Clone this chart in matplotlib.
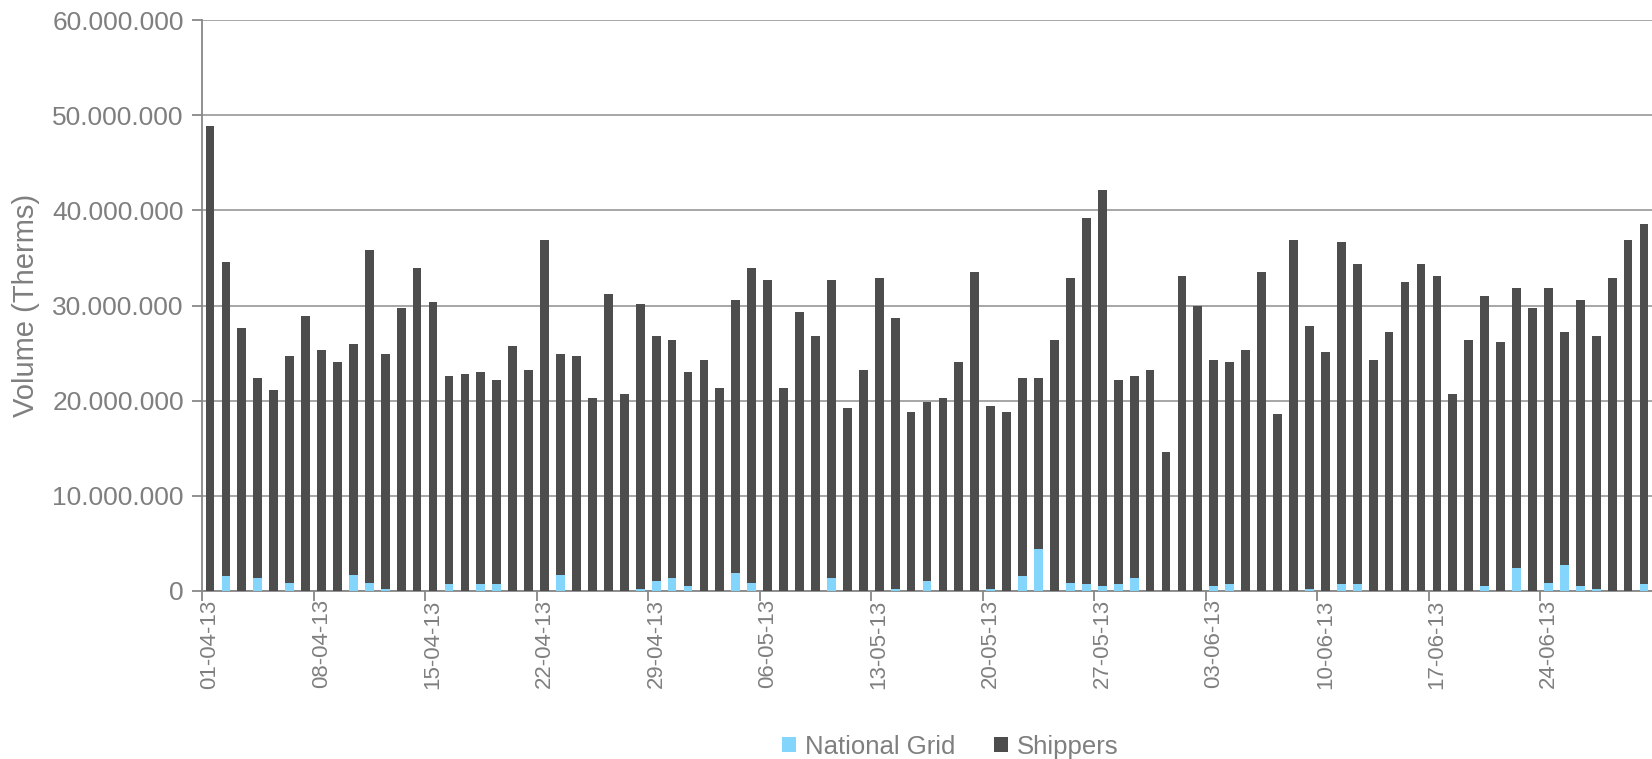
import numpy as np
import pandas as pd
import matplotlib
matplotlib.use("Agg")
import matplotlib.pyplot as plt
from matplotlib.ticker import FuncFormatter

plt.rcParams['font.family'] = ['Liberation Sans', 'DejaVu Sans']

# Jours d'avril a juin 2013
dates = pd.date_range('2013-04-01', '2013-06-30', freq='D')
labels = [d.strftime('%d-%m-%y') for d in dates]

# Volumes en millions de therms
national_grid = [
    0, 1.58, 0, 1.37, 0, 0.84, 0, 0, 0, 1.68,
    0.84, 0.21, 0, 0, 0, 0.74, 0, 0.74, 0.74, 0,
    0, 0, 1.68, 0, 0, 0, 0, 0.21, 1.05, 1.37,
    0.53, 0, 0, 1.89, 0.84, 0, 0, 0, 0, 1.37,
    0, 0, 0, 0.21, 0, 1.05, 0, 0, 0, 0.21,
    0, 1.58, 4.41, 0, 0.84, 0.74, 0.53, 0.74, 1.37, 0,
    0, 0, 0, 0.53, 0.74, 0, 0, 0, 0, 0.21,
    0, 0.74, 0.74, 0, 0, 0, 0, 0, 0, 0,
    0.53, 0, 2.42, 0, 0.84, 2.73, 0.53, 0.21, 0, 0,
    0.74]

shippers = [
    48.84, 32.98, 27.63, 21.00, 21.11, 23.84, 28.89, 25.32, 24.05, 24.27,
    34.98, 24.68, 29.73, 33.93, 30.36, 21.84, 22.79, 22.26, 21.42, 25.74,
    23.21, 36.87, 23.21, 24.68, 20.27, 31.20, 20.69, 29.94, 25.74, 25.00,
    22.47, 24.26, 21.32, 28.68, 33.09, 32.67, 21.32, 29.31, 26.79, 31.30,
    19.22, 23.21, 32.88, 28.47, 18.80, 18.80, 20.27, 24.05, 33.51, 19.22,
    18.80, 20.79, 17.96, 26.37, 32.04, 38.44, 41.59, 21.42, 21.21, 23.21,
    14.60, 33.09, 29.94, 23.73, 23.31, 25.32, 33.51, 18.59, 36.87, 27.63,
    25.11, 35.92, 33.61, 24.26, 27.21, 32.46, 34.35, 33.09, 20.69, 26.37,
    30.46, 26.16, 29.41, 29.73, 30.99, 24.48, 30.04, 26.58, 32.88, 36.87,
    37.81]

ng = np.array(national_grid) * 1e6
sh = np.array(shippers) * 1e6
x = np.arange(len(dates))

gris = '#7f7f7f'

fig = plt.figure(figsize=(16.52, 7.59), dpi=100)
ax = fig.add_axes([202/1652, 168/759, 1450/1652, 571/759])

ax.bar(x, ng, 0.55, color='#84D5FB', label='National Grid', zorder=3)
ax.bar(x, sh, 0.55, bottom=ng, color='#4d4d4d', label='Shippers', zorder=3)

ax.set_xlim(-0.5, len(dates) - 0.5)
ax.set_ylim(0, 60e6)

# axe y
ax.set_yticks(np.arange(0, 60e6 + 1, 10e6))
ax.yaxis.set_major_formatter(FuncFormatter(lambda v, p: f"{int(v):,}".replace(',', '.')))
ax.tick_params(axis='y', length=7, width=1.3, color='#888888', labelcolor=gris,
               labelsize=19, pad=6)
ax.grid(axis='y', color='#a6a6a6', linewidth=1.4, zorder=0)
ax.set_axisbelow(True)
ax.set_ylabel('Volume (Therms)', fontsize=21, color=gris)
ax.yaxis.set_label_coords(-0.112, 0.5)

# axe x : traits entre les jours, etiquettes au centre
semaines = np.arange(0, len(dates), 7)
ax.set_xticks(semaines - 0.5)
ax.set_xticklabels([])
ax.tick_params(axis='x', which='major', length=7, width=1.3, color='#888888')
ax.set_xticks(semaines, minor=True)
ax.set_xticklabels([labels[i] for i in semaines], minor=True, rotation=90)
ax.tick_params(axis='x', which='minor', length=0, labelcolor=gris,
               labelsize=16, pad=6)

for s in ['top', 'right']:
    ax.spines[s].set_visible(False)
for s in ['left', 'bottom']:
    ax.spines[s].set_color('#888888')
    ax.spines[s].set_linewidth(1.3)

leg = fig.legend(loc='lower center', bbox_to_anchor=(950/1652, -0.03), ncol=2,
                 frameon=False, fontsize=18.5, handlelength=0.55, handleheight=0.55,
                 handletextpad=0.35, columnspacing=1.5)
for t in leg.get_texts():
    t.set_color(gris)

fig.savefig('out.png', dpi=100)
